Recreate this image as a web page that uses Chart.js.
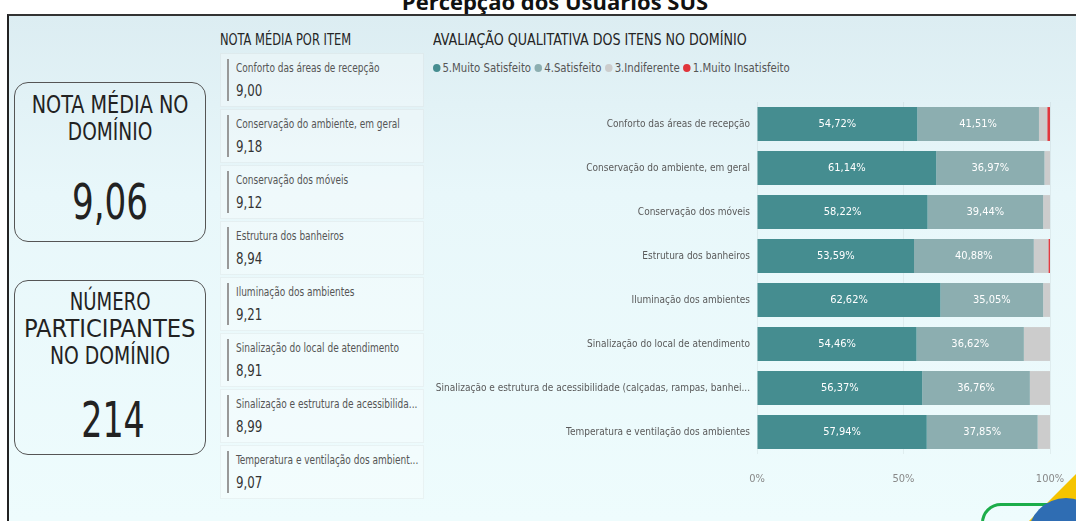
<!DOCTYPE html>
<html lang="pt">
<head>
  <meta charset="UTF-8">
  <title>Percepção dos Usuários SUS</title>
  <script src="https://cdn.jsdelivr.net/npm/chart.js"></script>
  <style>
    html, body {
      margin: 0;
      padding: 0;
      width: 1076px;
      height: 521px;
      overflow: hidden;
      background: #ffffff;
      font-family: "DejaVu Sans Condensed", "DejaVu Sans", sans-serif;
    }
    .title {
      position: absolute;
      left: 0;
      width: 1110px;
      top: -14px;
      text-align: center;
      font-family: "Open Sans", "Liberation Sans", sans-serif;
      font-weight: bold;
      font-size: 22px;
      color: #111;
    }
    .frame {
      position: absolute;
      left: 7px;
      top: 14px;
      width: 1069px;
      height: 507px;
      border-left: 2px solid #222;
      border-top: 2px solid #333;
      box-sizing: border-box;
      background: linear-gradient(#dcedf2 0%, #e8f7fa 35%, #eefcfd 100%);
      overflow: hidden;
    }
    .kpi {
      position: absolute;
      left: 14px;
      width: 192px;
      border: 1.5px solid #555;
      border-radius: 14px;
      box-sizing: border-box;
      text-align: center;
      color: #222;
    }
    .kpi .lbl {
      font-size: 24px;
      line-height: 27px;
    }
    .kpi .lbl span {
      display: inline-block;
      white-space: nowrap;
    }
    .kpi .val {
      font-size: 50px;
      line-height: 56px;
    }
    .sx {
      display: inline-block;
      transform-origin: left center;
      white-space: nowrap;
    }
    .head {
      position: absolute;
      top: 31px;
      font-size: 15px;
      color: #252525;
    }
    .item {
      position: absolute;
      left: 220px;
      width: 204px;
      height: 54px;
      background: rgba(255,255,255,0.3);
      border: 1px solid rgba(0,0,0,0.04);
      box-sizing: border-box;
    }
    .item .bar {
      position: absolute;
      left: 6px;
      top: 5px;
      width: 2px;
      height: 42px;
      background: #999;
    }
    .item .name {
      position: absolute;
      left: 15px;
      top: 7px;
      font-size: 11.5px;
      color: #555;
      white-space: nowrap;
      transform: scaleX(0.87);
      transform-origin: left center;
    }
    .item .score {
      position: absolute;
      left: 15px;
      top: 27px;
      font-size: 16px;
      color: #333;
      transform: scaleX(0.82);
      transform-origin: left center;
    }
    .legend {
      position: absolute;
      left: 433px;
      top: 61px;
      font-size: 12px;
      color: #555;
      white-space: nowrap;
      transform: scaleX(0.94);
      transform-origin: left center;
    }
    .legend span.dot {
      display: inline-block;
      width: 8px;
      height: 8px;
      border-radius: 50%;
      margin-right: 2px;
    }
    .legend span.entry {
      margin-right: 4px;
    }
    #chartBox {
      position: absolute;
      left: 430px;
      top: 102px;
      width: 634px;
      height: 386px;
    }
  </style>
</head>
<body>
  <div class="title">Percepção dos Usuários SUS</div>
  <div class="frame"></div>

  <div class="kpi" style="top:82px;height:160px;">
    <div class="lbl" style="margin-top:9px;">
      <span style="transform:scaleX(0.89)">NOTA MÉDIA NO</span><br>
      <span style="transform:scaleX(0.86)">DOMÍNIO</span>
    </div>
    <div class="val" style="margin-top:28px;transform:scaleX(0.76);">9,06</div>
  </div>
  <div class="kpi" style="top:280px;height:175px;">
    <div class="lbl" style="margin-top:8px;">
      <span style="transform:scaleX(0.84)">NÚMERO</span><br>
      <span style="transform:scaleX(1.05)">PARTICIPANTES</span><br>
      <span style="transform:scaleX(0.87)">NO DOMÍNIO</span>
    </div>
    <div class="val" style="margin-top:22px;margin-left:6px;transform:scaleX(0.74);">214</div>
  </div>

  <div class="head" style="left:220px;"><span class="sx" style="transform:scaleX(0.85)">NOTA MÉDIA POR ITEM</span></div>
  <div class="head" style="left:433px;"><span class="sx" style="transform:scaleX(0.94)">AVALIAÇÃO QUALITATIVA DOS ITENS NO DOMÍNIO</span></div>
  <div id="items"></div>
  <div class="legend" id="legend"></div>

  <div id="chartBox"><canvas id="chart"></canvas></div>

  <!-- decoração do canto -->
  <div style="position:absolute;left:1028px;top:470px;width:0;height:0;border-left:52px solid transparent;border-bottom:52px solid #f5c400;"></div>
  <div style="position:absolute;left:981px;top:503px;width:120px;height:50px;border:3px solid #1cad4a;border-radius:20px;"></div>
  <div style="position:absolute;left:1028px;top:498px;width:76px;height:76px;border-radius:50%;background:#2f6db3;"></div>

  <script>
    const categories = [
      'Conforto das áreas de recepção',
      'Conservação do ambiente, em geral',
      'Conservação dos móveis',
      'Estrutura dos banheiros',
      'Iluminação dos ambientes',
      'Sinalização do local de atendimento',
      'Sinalização e estrutura de acessibilidade (calçadas, rampas, banhei...',
      'Temperatura e ventilação dos ambientes'
    ];
    const muitoSatisfeito = [54.72, 61.14, 58.22, 53.59, 62.62, 54.46, 56.37, 57.94];
    const satisfeito = [41.51, 36.97, 39.44, 40.88, 35.05, 36.62, 36.76, 37.85];
    const indiferente = [2.83, 1.89, 2.34, 4.97, 2.33, 8.92, 6.87, 4.21];
    const muitoInsatisfeito = [0.94, 0, 0, 0.55, 0, 0, 0, 0];
    const xTicks = [0, 50, 100];

    const itemNames = [
      'Conforto das áreas de recepção',
      'Conservação do ambiente, em geral',
      'Conservação dos móveis',
      'Estrutura dos banheiros',
      'Iluminação dos ambientes',
      'Sinalização do local de atendimento',
      'Sinalização e estrutura de acessibilida...',
      'Temperatura e ventilação dos ambient...'
    ];
    const itemScores = [9.00, 9.18, 9.12, 8.94, 9.21, 8.91, 8.99, 9.07];

    const seriesNames = ['5.Muito Satisfeito', '4.Satisfeito', '3.Indiferente', '1.Muito Insatisfeito'];
    const seriesColors = ['#458d90', '#8caeb0', '#cccccc', '#e0353b'];

    // cartões da esquerda
    const itemsDiv = document.getElementById('items');
    itemNames.forEach((name, i) => {
      const d = document.createElement('div');
      d.className = 'item';
      d.style.top = (53 + i * 56) + 'px';
      d.innerHTML = '<div class="bar"></div><div class="name">' + name +
        '</div><div class="score">' + itemScores[i].toFixed(2).replace('.', ',') + '</div>';
      itemsDiv.appendChild(d);
    });

    // legenda
    const legend = document.getElementById('legend');
    legend.innerHTML = seriesNames.map((n, i) =>
      '<span class="entry"><span class="dot" style="background:' + seriesColors[i] + '"></span>' + n + '</span>'
    ).join('');

    const fmt = v => v.toFixed(2).replace('.', ',') + '%';
    const fontFam = '"DejaVu Sans Condensed", "DejaVu Sans", sans-serif';

    const barLabels = {
      id: 'barLabels',
      afterDatasetsDraw(chart) {
        const ctx = chart.ctx;
        ctx.save();
        ctx.fillStyle = '#ffffff';
        ctx.font = '11px ' + fontFam;
        ctx.textAlign = 'center';
        ctx.textBaseline = 'middle';
        [0, 1].forEach(di => {
          const meta = chart.getDatasetMeta(di);
          meta.data.forEach((bar, j) => {
            const v = chart.data.datasets[di].data[j];
            const left = Math.min(bar.x, bar.base);
            const right = Math.max(bar.x, bar.base);
            ctx.fillText(fmt(v), (left + right) / 2, bar.y);
          });
        });
        ctx.restore();
      }
    };

    const allSeries = [muitoSatisfeito, satisfeito, indiferente, muitoInsatisfeito];

    new Chart(document.getElementById('chart'), {
      type: 'bar',
      data: {
        labels: categories,
        datasets: allSeries.map((d, i) => ({
          label: seriesNames[i],
          data: d,
          backgroundColor: seriesColors[i],
          borderWidth: 0,
          categoryPercentage: 0.77,
          barPercentage: 1
        }))
      },
      options: {
        indexAxis: 'y',
        responsive: true,
        maintainAspectRatio: false,
        animation: false,
        layout: { padding: { right: 14 } },
        plugins: {
          legend: { display: false },
          tooltip: { enabled: false }
        },
        scales: {
          x: {
            stacked: true,
            min: 0,
            max: 100,
            afterBuildTicks: s => { s.ticks = xTicks.map(v => ({ value: v })); },
            afterFit: s => {
              s.height = 34;
              s.paddingLeft = 0;
              s.paddingRight = 0;
            },
            ticks: {
              color: '#888',
              font: { size: 11, family: fontFam },
              padding: 19,
              callback: v => v + '%'
            },
            grid: { color: 'rgba(0,0,0,0.05)', drawTicks: false },
            border: { display: false }
          },
          y: {
            stacked: true,
            afterFit: s => {
              s.width = 327;
              s.paddingTop = 0;
              s.paddingBottom = 0;
            },
            ticks: {
              color: '#5a5a5a',
              font: { size: 10, family: fontFam },
              padding: 7
            },
            grid: { display: false, drawTicks: false },
            border: { display: false }
          }
        }
      },
      plugins: [barLabels]
    });
  </script>
</body>
</html>
